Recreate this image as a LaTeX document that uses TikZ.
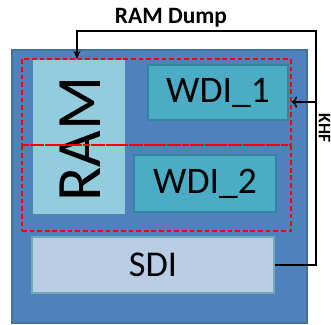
\documentclass[tikz,border=0pt]{standalone}
\usepackage{fontspec}
\setmainfont{Carlito}
\usetikzlibrary{arrows.meta}
\definecolor{chipblue}{HTML}{4F81BD}
\definecolor{chipedge}{HTML}{41719C}
\definecolor{ramfill}{HTML}{93CDDD}
\definecolor{wdifill}{HTML}{4BACC6}
\definecolor{wdiedge}{HTML}{31859C}
\definecolor{sdifill}{HTML}{B9CDE5}
\begin{document}
\begin{tikzpicture}[x=0.03cm, y=-0.03cm, line width=0.9pt,
  chip/.style={draw=chipedge, fill=chipblue, line width=1.2pt, inner sep=0pt},
  rambox/.style={fill=ramfill, inner sep=0pt},
  wdibox/.style={draw=wdiedge, fill=wdifill, line width=1.5pt, inner sep=0pt, font=\fontsize{32}{32}\selectfont},
  sdibox/.style={draw=wdiedge!70, fill=sdifill, line width=1.5pt, inner sep=0pt, font=\fontsize{31}{31}\selectfont},
  zone/.style={draw=red, dashed, dash pattern=on 4pt off 2.5pt, line width=1.4pt, inner sep=0pt},
  conn/.style={black, line width=1.3pt},
  lbl/.style={font=\bfseries\fontsize{20}{20}\selectfont, inner sep=0pt}]
  \useasboundingbox (0,0) rectangle (331,324);
  % outer chip
  \node[chip, minimum width=8.85cm, minimum height=8.19cm] (chip) at (159.5,186.5) {};
  % RAM column
  \node[rambox, minimum width=2.76cm, minimum height=4.62cm] (ram) at (79,137) {};
  \node[rotate=90, inner sep=0pt, font=\fontsize{54}{54}\selectfont] (ramtxt) at (80,139) {RAM};
  % write interfaces and status interface
  \node[wdibox, minimum width=4.2cm, minimum height=1.65cm] (wdi1) at (218,92.5) {WDI\_1};
  \node[wdibox, minimum width=4.26cm, minimum height=1.71cm] (wdi2) at (205,183.5) {WDI\_2};
  \node[sdibox, minimum width=7.26cm, minimum height=1.68cm] (sdi) at (153,265) {SDI};
  % dashed zones
  \node[zone, minimum width=8.07cm, minimum height=2.58cm] (zone1) at (156.5,102) {};
  \node[zone, minimum width=8.07cm, minimum height=2.58cm] (zone2) at (156.5,188) {};
  % feedback wiring
  \coordinate (topright) at (316,31);
  \coordinate (ramin) at (77,59);
  \coordinate (tap) at (316,102);
  \draw[conn, -{Stealth[length=7pt,width=6pt]}] (sdi.east) -| (topright) -| (ramin);
  \draw[conn, ->] (tap) -- (zone1.east);
  \node[lbl] (dumplbl) at (171,18) {RAM Dump};
  \node[lbl, rotate=-90, font=\bfseries\fontsize{15}{15}\selectfont] (sidelbl) at (324.5,128) {KHF};
\end{tikzpicture}
\end{document}
